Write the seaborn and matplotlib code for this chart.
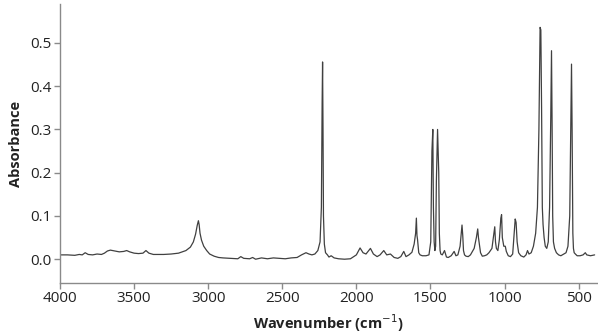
import matplotlib
matplotlib.use("Agg")
import matplotlib.pyplot as plt
import seaborn as sns
import pandas as pd

wavenumber = [
    4000, 3950, 3900, 3870, 3850, 3830, 3810, 3780, 3750, 3720, 3700, 3680, 3660, 3630,
    3600, 3570, 3550, 3530, 3500, 3470, 3440, 3420, 3400, 3370, 3330, 3300, 3250, 3200,
    3150, 3120, 3100, 3085, 3074, 3066, 3061, 3055, 3045, 3030, 3010, 2990, 2960, 2930,
    2900, 2850, 2800, 2780, 2760, 2720, 2700, 2680, 2640, 2600, 2560, 2520, 2480, 2440,
    2400, 2370, 2340, 2320, 2300, 2280, 2260, 2245, 2236, 2231, 2228, 2225, 2222, 2216,
    2208, 2195, 2185, 2170, 2150, 2120, 2080, 2040, 2000, 1975, 1955, 1935, 1905, 1885,
    1860, 1840, 1815, 1795, 1770, 1745, 1720, 1700, 1680, 1665, 1645, 1625, 1610, 1600,
    1595, 1591, 1587, 1583, 1579, 1570, 1555, 1530, 1510, 1498, 1490, 1484, 1480, 1475,
    1470, 1465, 1460, 1452, 1444, 1440, 1435, 1430, 1420, 1405, 1392, 1380, 1360, 1340,
    1328, 1315, 1300, 1287, 1282, 1277, 1270, 1260, 1245, 1230, 1205, 1190, 1181, 1176,
    1170, 1162, 1150, 1135, 1120, 1105, 1095, 1085, 1072, 1066, 1061, 1055, 1045, 1035,
    1025, 1020, 1015, 1005, 995, 988, 975, 960, 945, 935, 928, 922, 915, 905, 890, 870,
    855, 845, 835, 820, 805, 790, 778, 768, 760, 755, 750, 745, 740, 733, 725, 715, 705,
    696, 688, 683, 679, 675, 670, 662, 650, 635, 620, 600, 585, 572, 560, 548, 544, 539,
    535, 530, 522, 510, 490, 470, 455, 445, 420, 392,
]
absorbance = [
    0.010, 0.010, 0.009, 0.011, 0.010, 0.015, 0.011, 0.010, 0.012, 0.011, 0.014, 0.019, 0.021, 0.019,
    0.017, 0.018, 0.020, 0.017, 0.014, 0.013, 0.014, 0.020, 0.014, 0.011, 0.011, 0.011, 0.012, 0.014,
    0.020, 0.028, 0.040, 0.058, 0.078, 0.089, 0.080, 0.060, 0.044, 0.030, 0.020, 0.012, 0.007, 0.004,
    0.003, 0.002, 0.001, 0.006, 0.002, 0.001, 0.004, 0.000, 0.003, 0.001, 0.003, 0.002, 0.001, 0.003,
    0.004, 0.010, 0.015, 0.012, 0.010, 0.012, 0.020, 0.040, 0.120, 0.360, 0.456, 0.300, 0.100, 0.035,
    0.015, 0.010, 0.005, 0.008, 0.003, 0.001, 0.000, 0.001, 0.010, 0.026, 0.015, 0.012, 0.025, 0.012,
    0.006, 0.010, 0.020, 0.010, 0.012, 0.004, 0.002, 0.006, 0.018, 0.006, 0.010, 0.016, 0.035, 0.060,
    0.095, 0.055, 0.045, 0.030, 0.015, 0.010, 0.008, 0.008, 0.010, 0.040, 0.250, 0.300, 0.120, 0.040,
    0.020, 0.030, 0.180, 0.300, 0.200, 0.060, 0.020, 0.012, 0.010, 0.020, 0.005, 0.004, 0.008, 0.018,
    0.008, 0.010, 0.030, 0.079, 0.055, 0.020, 0.010, 0.007, 0.006, 0.010, 0.025, 0.050, 0.070, 0.050,
    0.035, 0.015, 0.007, 0.008, 0.010, 0.015, 0.020, 0.025, 0.060, 0.075, 0.040, 0.025, 0.020, 0.045,
    0.095, 0.103, 0.050, 0.030, 0.030, 0.018, 0.008, 0.006, 0.012, 0.060, 0.093, 0.085, 0.040, 0.015, 0.008, 0.005,
    0.010, 0.020, 0.012, 0.015, 0.030, 0.060, 0.120, 0.300, 0.536, 0.530, 0.350, 0.120, 0.080, 0.050, 0.030, 0.025, 0.040,
    0.120, 0.330, 0.482, 0.310, 0.100, 0.040, 0.025, 0.015, 0.010, 0.008, 0.012, 0.015, 0.030, 0.100, 0.451, 0.300, 0.060,
    0.025, 0.015, 0.012, 0.008, 0.008, 0.010, 0.015, 0.010, 0.008, 0.010,
]

x_ticks = [4000, 3500, 3000, 2500, 2000, 1500, 1000, 500]
x_tick_labels = ["4000", "3500", "3000", "2500", "2000", "1500", "1000", "500"]
y_ticks = [0.0, 0.1, 0.2, 0.3, 0.4, 0.5]
y_tick_labels = ["0.0", "0.1", "0.2", "0.3", "0.4", "0.5"]

df = pd.DataFrame({"Wavenumber": wavenumber, "Absorbance": absorbance})

sns.set_theme(style="ticks")
plt.rcParams["font.family"] = ["Open Sans", "DejaVu Sans"]

fig = plt.figure(figsize=(5.98, 3.34), dpi=100)
ax = fig.add_axes([60 / 598, 1 - 283 / 334, 537 / 598, 279 / 334])

sns.lineplot(data=df, x="Wavenumber", y="Absorbance", ax=ax, sort=False,
             estimator=None, color="#404040", linewidth=0.9)

ax.set_xlim(4000, 376)
ax.set_ylim(-0.055, 0.59)
ax.set_xticks(x_ticks)
ax.set_xticklabels(x_tick_labels)
ax.set_yticks(y_ticks)
ax.set_yticklabels(y_tick_labels)

for s in ["top", "right"]:
    ax.spines[s].set_visible(False)
for s in ["left", "bottom"]:
    ax.spines[s].set_color("#8a8a8a")
    ax.spines[s].set_linewidth(1.0)
ax.tick_params(axis="both", colors="#8a8a8a", labelcolor="#222222",
               length=4, width=1.0, labelsize=11, pad=2)

ax.set_xlabel("Wavenumber (cm$^{-1}$)", fontsize=10.5, fontweight="bold",
              color="#222222", labelpad=4)
ax.set_ylabel("Absorbance", fontsize=10.5, fontweight="bold", color="#222222",
              labelpad=5)

fig.savefig("out.png", dpi=100)
